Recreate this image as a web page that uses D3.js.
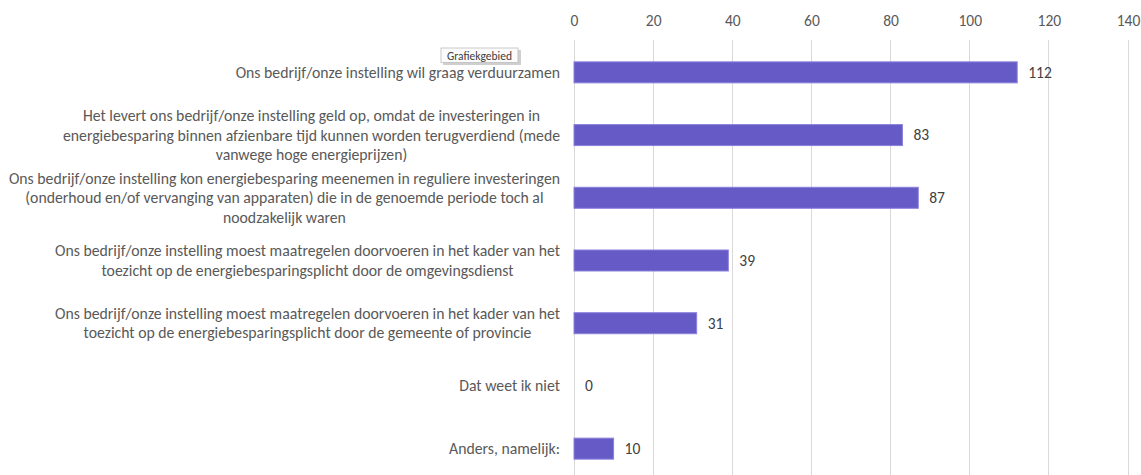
<!DOCTYPE html>
<html><head><meta charset="utf-8">
<script src="https://cdn.jsdelivr.net/npm/d3@7"></script>
<style>body{margin:0;background:#fff;}svg{display:block;}</style>
</head><body><svg id="c" width="1141" height="475"></svg>
<script>
const categories = [
  "Ons bedrijf/onze instelling wil graag verduurzamen",
  "Het levert ons bedrijf/onze instelling geld op, omdat de investeringen in\nenergiebesparing binnen afzienbare tijd kunnen worden terugverdiend (mede\nvanwege hoge energieprijzen)",
  "Ons bedrijf/onze instelling kon energiebesparing meenemen in reguliere investeringen\n(onderhoud en/of vervanging van apparaten) die in de genoemde periode toch al\nnoodzakelijk waren",
  "Ons bedrijf/onze instelling moest maatregelen doorvoeren in het kader van het\ntoezicht op de energiebesparingsplicht door de omgevingsdienst",
  "Ons bedrijf/onze instelling moest maatregelen doorvoeren in het kader van het\ntoezicht op de energiebesparingsplicht door de gemeente of provincie",
  "Dat weet ik niet",
  "Anders, namelijk:"
];
const values = [112, 83, 87, 39, 31, 0, 10];
const tickValues = [0, 20, 40, 60, 80, 100, 120, 140];

const svg = d3.select("#c");
const font = "Calibri, Carlito, 'Liberation Sans', Arial, sans-serif";
const x = d3.scaleLinear().domain([0, 140]).range([574, 1128]);
const y = d3.scaleBand().domain(categories).range([41, 480]).paddingInner(0.665).paddingOuter(0.3325);

// gridlines
svg.append("g").selectAll("line").data(tickValues).join("line")
  .attr("x1", d => x(d)).attr("x2", d => x(d))
  .attr("y1", 40).attr("y2", 475)
  .attr("stroke", "#d9d9d9").attr("stroke-width", 1)
  .attr("shape-rendering", "crispEdges");

// top axis labels
const axis = d3.axisTop(x).tickValues(tickValues).tickSize(0).tickPadding(0);
const ag = svg.append("g").attr("transform", "translate(0,26)").call(axis);
ag.select(".domain").remove();
ag.selectAll("text").attr("fill", "#595959").style("font-family", font).style("font-size", "15.5px");

// bars
svg.append("g").selectAll("rect").data(values).join("rect")
  .attr("x", x(0)).attr("y", (d, i) => y(categories[i]))
  .attr("width", d => x(d) - x(0)).attr("height", y.bandwidth())
  .attr("fill", "#655ac6").attr("stroke", d => d > 0 ? "#8b82dc" : "none").attr("stroke-width", 1);

// value labels
svg.append("g").selectAll("text").data(values).join("text")
  .attr("x", d => x(d) + 11).attr("y", (d, i) => y(categories[i]) + y.bandwidth() / 2)
  .attr("dy", "0.35em").attr("fill", "#404040")
  .style("font-family", font).style("font-size", "15.5px")
  .text(d => d);

// category labels (centered block, right edge at 560)
const lh = 19.3;
const lg = svg.append("g");
categories.forEach((c, i) => {
  const lines = c.split("\n");
  const cy = y(c) + y.bandwidth() / 2;
  const t = lg.append("text").attr("fill", "#595959")
    .style("font-family", font).style("font-size", "15.75px").attr("text-anchor", "middle");
  const spans = lines.map((l, j) => t.append("tspan").attr("y", cy + (j - (lines.length - 1) / 2) * lh).attr("dy", "0.35em").text(l));
  let maxW = 0;
  spans.forEach(s => { maxW = Math.max(maxW, s.node().getComputedTextLength()); });
  spans.forEach(s => s.attr("x", 560 - maxW / 2));
});

// tooltip
const tt = svg.append("g").attr("transform", "translate(441,48)");
tt.append("rect").attr("x", 2).attr("y", 2).attr("width", 78).attr("height", 15).attr("fill", "#cfcfcf");
tt.append("rect").attr("x", 0).attr("y", 0).attr("width", 77).attr("height", 14.5).attr("fill", "#fbfbfb").attr("stroke", "#bdbdbd").attr("stroke-width", 0.8);
tt.append("text").attr("x", 38.5).attr("y", 7.5).attr("dy", "0.35em").attr("text-anchor", "middle")
  .attr("fill", "#404040").style("font-family", font).style("font-size", "11.5px").text("Grafiekgebied");
</script></body></html>
